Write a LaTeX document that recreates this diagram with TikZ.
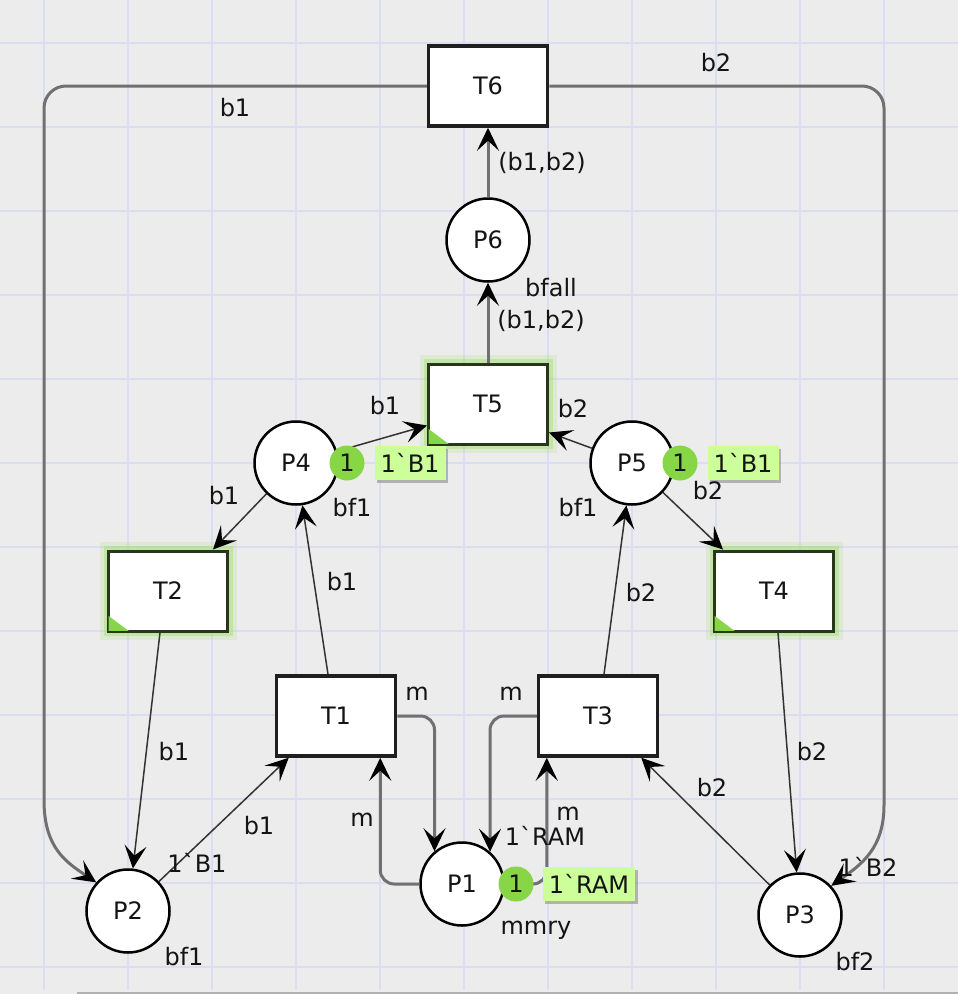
\documentclass[tikz,border=0pt]{standalone}
\usepackage{fontspec}
\newfontfamily\dv{DejaVu Sans}
\usetikzlibrary{arrows.meta,calc,shadows}
\definecolor{bg}{RGB}{236,236,236}
\definecolor{gridc}{RGB}{220,220,242}
\definecolor{arcg}{RGB}{112,112,114}
\definecolor{tok}{RGB}{134,214,70}
\definecolor{labc}{RGB}{204,255,153}
\definecolor{glowc}{RGB}{150,222,90}
\definecolor{enb}{RGB}{40,55,28}
\definecolor{txt}{RGB}{20,20,20}
\begin{document}
\begin{tikzpicture}[x=1pt,y=-1pt,
  font=\dv\fontsize{24}{28}\selectfont, text=txt,
  place/.style={circle,draw=black,line width=2.5pt,fill=white,minimum size=83pt,inner sep=0pt},
  trans/.style={rectangle,draw=black!88,line width=3.5pt,fill=white,minimum width=119pt,minimum height=80pt,inner sep=0pt},
  enabled/.style={trans,draw=enb,line width=3pt,
     preaction={draw=glowc,line width=18pt,draw opacity=.16},
     preaction={draw=glowc,line width=10pt,draw opacity=.38}},
  token/.style={circle,fill=tok,minimum size=35pt,inner sep=0pt},
  marklab/.style={rectangle,fill=labc,minimum height=34pt,inner xsep=6pt,inner ysep=0pt,
     drop shadow={shadow xshift=2.5pt,shadow yshift=-2.5pt,fill=black!45,opacity=.6}},
  tip/.style={-{Stealth[length=23pt,width=22pt,inset=10pt,color=black]}},
  thinarc/.style={tip,draw=black!80,line width=1.5pt},
  thickarc/.style={tip,draw=arcg,line width=3pt},
  lbl/.style={inner sep=0pt}
]
\fill[bg] (0,0) rectangle (958,994);
\useasboundingbox (0,0) rectangle (958,994);
% grid
\foreach \gx in {44,128,...,884} \draw[gridc,line width=2pt] (\gx,0) -- (\gx,990);
\foreach \gy in {43,127,...,967} \draw[gridc,line width=2pt] (0,\gy) -- (958,\gy);
\draw[black!30,line width=2.5pt] (77,993) -- (958,993);

% places
\node[place] (P6) at (488,240) {P6};
\node[place] (P4) at (296,463) {P4};
\node[place] (P5) at (632,463) {P5};
\node[place] (P1) at (462,884) {P1};
\node[place] (P2) at (128,911) {P2};
\node[place] (P3) at (800,915) {P3};
% transitions
\node[trans] (T6) at (488,86) {T6};
\node[enabled] (T5) at (488,404) {T5};
\node[enabled] (T2) at (168,591) {T2};
\node[enabled] (T4) at (774,591) {T4};
\node[trans] (T1) at (336,716) {T1};
\node[trans] (T3) at (598,716) {T3};
% enabled corner marks
\foreach \t in {T5,T2,T4}
  \fill[tok] ([shift={(1.6,-1.6)}]\t.south west) -- ++(20,0) -- ++(-20,-15) -- cycle;

% connectors
\draw[thickarc] (T6.west) [rounded corners=22pt] -- (44,86) [sharp corners] -- (44,800)
   .. controls (44,848) and (66,862) .. (P2.138);
\draw[thickarc] (T6.east) [rounded corners=22pt] -- (884,86) [sharp corners] -- (884,805)
   .. controls (884,848) and (862,864) .. (P3.43);
\draw[thickarc] (P6) -- (T6);
\draw[thickarc] (T5) -- (P6);
\draw[thinarc] (P4) -- ([yshift=20pt]T5.south west);
\draw[thinarc] (P5) -- ([yshift=13pt]T5.south east);
\draw[thinarc] (P4) -- ([xshift=-16pt]T2.north east);
\draw[thinarc] ([xshift=-8pt]T1.north) -- (P4);
\draw[thinarc] (P5) -- ([xshift=10pt]T4.north west);
\draw[thinarc] ([xshift=6pt]T3.north) -- (P5);
\draw[thinarc] ([xshift=-8pt]T2.south) -- (P2);
\draw[thinarc] (P2) -- ([xshift=14pt]T1.south west);
\draw[thinarc] ([xshift=4pt]T4.south) -- (P3);
\draw[thinarc] (P3) -- ([xshift=-18pt]T3.south east);
\draw[thickarc,rounded corners=14pt] (T1.east) -| (P1.130);
\draw[thickarc,rounded corners=14pt] (T3.west) -| (P1.49);
\draw[thickarc,rounded corners=14pt] (P1.west) -| ([xshift=-17pt]T1.south east);
\draw[thickarc,rounded corners=14pt] (P1.east) -| ([xshift=10pt]T3.south west);

% tokens and markings
\node[token] (k4) at (347,463) {1};
\node[token] (k5) at (680,463) {1};
\node[token] (k1) at (516,884) {1};
\node[marklab] (m4) at (410,463) {1`B1};
\node[marklab] (m5) at (743,463) {1`B1};
\node[marklab] (m1) at (589,884) {1`RAM};

% inscriptions
\node[lbl] (a1) at (235,108) {b1};
\node[lbl] (a2) at (716,63) {b2};
\node[lbl] (a3) at (542,163) {(b1,b2)};
\node[lbl] (a4) at (541,321) {(b1,b2)};
\node[lbl] (a5) at (551,288) {bfall};
\node[lbl] (a6) at (385,406) {b1};
\node[lbl] (a7) at (573,409) {b2};
\node[lbl] (a8) at (352,508) {bf1};
\node[lbl] (a9) at (578,508) {bf1};
\node[lbl] (a10) at (708,491) {b2};
\node[lbl] (a11) at (224,496) {b1};
\node[lbl] (a12) at (342,582) {b1};
\node[lbl] (a13) at (641,593) {b2};
\node[lbl] (a14) at (174,752) {b1};
\node[lbl] (a15) at (812,752) {b2};
\node[lbl] (a16) at (417,694) {m};
\node[lbl] (a17) at (511,694) {m};
\node[lbl] (a18) at (362,820) {m};
\node[lbl] (a19) at (568,814) {m};
\node[lbl] (a20) at (545,836) {1`RAM};
\node[lbl] (a21) at (536,930) {mmry};
\node[lbl] (a22) at (259,826) {b1};
\node[lbl] (a23) at (197,863) {1`B1};
\node[lbl] (a24) at (184,957) {bf1};
\node[lbl] (a25) at (712,788) {b2};
\node[lbl] (a26) at (868,867) {1`B2};
\node[lbl] (a27) at (855,962) {bf2};
\end{tikzpicture}
\end{document}
